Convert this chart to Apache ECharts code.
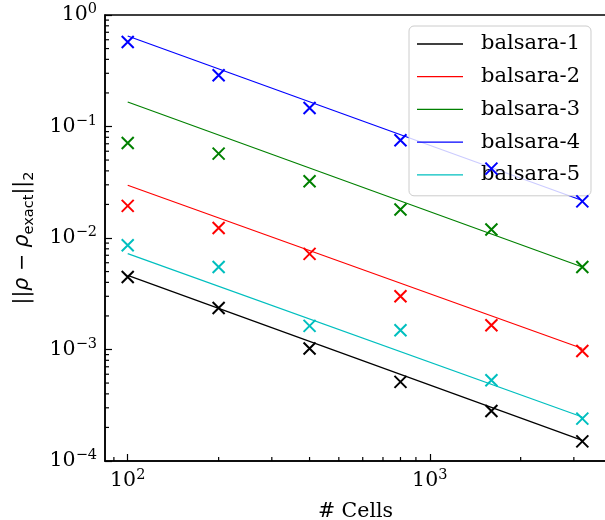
<!DOCTYPE html>
<html>
<head>
<meta charset="utf-8">
<script src="https://cdn.jsdelivr.net/npm/echarts@6/dist/echarts.min.js"></script>
<style>html,body{margin:0;padding:0;background:#fff;}#c{width:605px;height:520px;}</style>
</head>
<body>
<div id="c"></div>
<script>
// ---- data ----
const cells = [100, 200, 400, 800, 1600, 3200];
const names = ['balsara-1', 'balsara-2', 'balsara-3', 'balsara-4', 'balsara-5'];
const colors = ['#000000', '#ff0000', '#008000', '#0000ff', '#00bfbf'];
const err1 = [0.00447, 0.00236, 0.00102, 0.000512, 0.000281, 0.000150];
const err2 = [0.0194, 0.0123, 0.0072, 0.0030, 0.00165, 0.00097];
const err3 = [0.0711, 0.0571, 0.0323, 0.0180, 0.0119, 0.0055];
const err4 = [0.573, 0.288, 0.1466, 0.0752, 0.0419, 0.0213];
const err5 = [0.0086, 0.0055, 0.00163, 0.00149, 0.00053, 0.00024];
// fitted lines: values at the first and last cell count
const fitX = [100, 3200];
const fit1 = [0.00462, 0.000153];
const fit2 = [0.0297, 0.00102];
const fit3 = [0.166, 0.0055];
const fit4 = [0.648, 0.0217];
const fit5 = [0.00724, 0.000248];
// axis ranges and ticks
const xMin = 84.1, xMax = 3833;
const yMin = 1e-4, yMax = 1;
const xMinorTicks = [90, 200, 300, 400, 500, 600, 700, 800, 900, 2000, 3000];
const yMinorTicks = [];
[1e-4, 1e-3, 1e-2, 1e-1].forEach(d => { for (let k = 2; k <= 9; k++) yMinorTicks.push(+(k * d).toPrecision(3)); });

const errs = [err1, err2, err3, err4, err5];
const fits = [fit1, fit2, fit3, fit4, fit5];

const SERIF = 'DejaVu Serif';
const SANS = 'DejaVu Sans';
const FS = 20.5;

function powLabel(v) {
  const l = Math.log10(v);
  const n = Math.round(l);
  if (Math.abs(l - n) > 1e-6) return '';
  return '{b|10}{s|' + (n < 0 ? '\u2212' + (-n) : String(n)) + '}';
}
const powRich = {
  b: { fontFamily: SERIF, fontSize: FS, lineHeight: 26, color: '#000' },
  s: { fontFamily: SERIF, fontSize: 14.5, lineHeight: 15, verticalAlign: 'top', color: '#000' }
};

const series = [];
names.forEach((nm, i) => {
  series.push({
    name: nm, type: 'line', showSymbol: false, symbol: 'none',
    data: fitX.map((x, j) => [x, fits[i][j]]),
    lineStyle: { color: colors[i], width: 1.2 },
    itemStyle: { color: colors[i] },
    z: 3, silent: true, animation: false
  });
});
names.forEach((nm, i) => {
  series.push({
    name: nm + ' data', type: 'scatter',
    symbol: 'path://M0,0L10,10M0,10L10,0', symbolSize: 12,
    data: cells.map((x, j) => [x, errs[i][j]]),
    itemStyle: { color: 'rgba(0,0,0,0)', borderColor: colors[i], borderWidth: 2, opacity: 1 },
    z: 4, silent: true, animation: false
  });
});
// minor tick marks drawn through the axes' scales
series.push({
  type: 'custom', name: 'xminor', silent: true, animation: false, z: 6, clip: false,
  data: xMinorTicks.map(v => [v, yMin]),
  renderItem: function (params, api) {
    const p = api.coord([api.value(0), api.value(1)]);
    return { type: 'line', shape: { x1: p[0], y1: p[1], x2: p[0], y2: p[1] - 4 }, style: { stroke: '#000', lineWidth: 1.2 } };
  }
});
series.push({
  type: 'custom', name: 'yminor', silent: true, animation: false, z: 6, clip: false,
  data: yMinorTicks.map(v => [xMin, v]),
  renderItem: function (params, api) {
    const p = api.coord([api.value(0), api.value(1)]);
    return { type: 'line', shape: { x1: p[0], y1: p[1], x2: p[0] + 4, y2: p[1] }, style: { stroke: '#000', lineWidth: 1.2 } };
  }
});

const chart = echarts.init(document.getElementById('c'), null, { renderer: 'canvas' });
chart.setOption({
  animation: false,
  backgroundColor: '#fff',
  grid: {
    left: 105, right: -1, top: 15, height: 446,
    outerBoundsMode: 'none', containLabel: false,
    show: true, borderColor: '#000', borderWidth: 1.5, backgroundColor: 'transparent'
  },
  legend: {
    data: names.map((n, i) => ({ name: n, itemStyle: { color: colors[i] } })),
    orient: 'vertical', left: 409, top: 26,
    icon: 'rect', itemWidth: 46, itemHeight: 1.3, itemGap: 8.7,
    padding: [6, 11, 9, 8],
    backgroundColor: 'rgba(255,255,255,0.8)', borderColor: '#cccccc', borderWidth: 1, borderRadius: 5,
    textStyle: { fontFamily: SERIF, fontSize: 21, lineHeight: 24, color: '#000', padding: [0, 0, 0, 13] },
    selectedMode: false
  },
  xAxis: {
    type: 'log', logBase: 10, min: xMin, max: xMax,
    name: '# Cells', nameLocation: 'middle', nameGap: 40,
    nameTextStyle: { fontFamily: SERIF, fontSize: FS, color: '#000' },
    axisLine: { show: true, lineStyle: { color: '#000', width: 1.5 } },
    axisTick: { show: true, inside: true, length: 7, lineStyle: { color: '#000', width: 1.2 } },
    axisLabel: { formatter: powLabel, rich: powRich, margin: 7, showMinLabel: false, showMaxLabel: false, color: '#000' },
    splitLine: { show: false }, minorTick: { show: false }
  },
  yAxis: {
    type: 'log', logBase: 10, min: yMin, max: yMax,
    name: '{a|||}{i|\u03c1}{a| \u2212 }{i|\u03c1}{s|exact}{a|||}{s|2}',
    nameLocation: 'middle', nameGap: 68,
    nameTextStyle: {
      rich: {
        a: { fontFamily: SANS, fontSize: FS, lineHeight: 28, color: '#000' },
        i: { fontFamily: SANS, fontStyle: 'italic', fontSize: FS, lineHeight: 28, color: '#000' },
        s: { fontFamily: SANS, fontSize: 14.5, lineHeight: 16, verticalAlign: 'bottom', color: '#000' }
      }
    },
    axisLine: { show: true, lineStyle: { color: '#000', width: 1.5 } },
    axisTick: { show: true, inside: true, length: 7, lineStyle: { color: '#000', width: 1.2 } },
    axisLabel: { formatter: powLabel, rich: powRich, margin: 8, color: '#000' },
    splitLine: { show: false }, minorTick: { show: false }
  },
  series: series
});
</script>
</body>
</html>
